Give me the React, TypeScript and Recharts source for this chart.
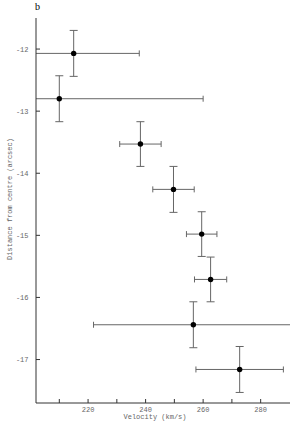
import React from 'react';
import { ScatterChart, Scatter, XAxis, YAxis, ErrorBar } from 'recharts';

// values (velocity in km/s, distance in arcsec)
const velocity = [215.0, 210.0, 238.2, 249.7, 259.5, 262.6, 256.6, 272.7];
const distance = [-12.07, -12.8, -13.53, -14.26, -14.98, -15.71, -16.44, -17.16];
const velocityErr = [22.8, 50, 7.2, 7.2, 5.3, 5.6, 34.7, 15.2];
const distanceErr = [0.37, 0.37, 0.36, 0.37, 0.36, 0.36, 0.37, 0.37];

const xTicks = [210, 220, 230, 240, 250, 260, 270, 280];
const yTicks = [-17, -16, -15, -14, -13, -12];

const xDomain: [number, number] = [201.9, 290.2];
const yDomain: [number, number] = [-17.7, -11.5];

const mono = '"Liberation Mono", monospace';
const frame = '#333';
const textColor = '#666';

const data = velocity.map((v, i) => ({
  v,
  d: distance[i],
  vErr: velocityErr[i],
  dErr: distanceErr[i],
}));

const Dot = (props: any) => <circle cx={props.cx} cy={props.cy} r={2.7} fill="#000" />;

export default function App() {
  return (
    <div style={{ position: 'absolute', left: 0, top: 0, width: 297, height: 424, background: '#fff' }}>
      <ScatterChart width={297} height={424} margin={{ top: 18, right: 7, bottom: 0, left: 0 }}>
        <defs>
          <clipPath id="plotArea" clipPathUnits="userSpaceOnUse">
            <rect x={36} y={18} width={254} height={385} />
          </clipPath>
        </defs>
        <XAxis
          xAxisId="bottom"
          dataKey="v"
          type="number"
          domain={xDomain}
          ticks={xTicks}
          allowDataOverflow
          height={21}
          tickSize={-4}
          tickMargin={8}
          tickFormatter={(t: number) => (t % 20 === 0 ? String(t) : '')}
          tick={{ fill: textColor, fontSize: 7, fontFamily: mono }}
          axisLine={{ stroke: frame }}
          tickLine={{ stroke: frame }}
        />
        <XAxis
          xAxisId="top"
          orientation="top"
          type="number"
          domain={xDomain}
          ticks={xTicks}
          allowDataOverflow
          height={0}
          tickSize={-4}
          tick={false}
          axisLine={{ stroke: frame }}
          tickLine={{ stroke: frame }}
        />
        <YAxis
          yAxisId="left"
          dataKey="d"
          type="number"
          domain={yDomain}
          ticks={yTicks}
          allowDataOverflow
          width={36}
          tickSize={-4}
          tickMargin={11.5}
          tick={{ fill: textColor, fontSize: 7, fontFamily: mono }}
          axisLine={{ stroke: frame }}
          tickLine={{ stroke: frame }}
        />
        <YAxis
          yAxisId="right"
          orientation="right"
          type="number"
          domain={yDomain}
          ticks={yTicks}
          allowDataOverflow
          width={0}
          tickSize={-4}
          tick={false}
          axisLine={{ stroke: frame }}
          tickLine={{ stroke: frame }}
        />
        <Scatter data={data} xAxisId="bottom" yAxisId="left" shape={Dot} isAnimationActive={false}>
          <ErrorBar
            dataKey="vErr"
            direction="x"
            width={3}
            stroke="#666"
            strokeWidth={1}
            clipPath="url(#plotArea)"
            isAnimationActive={false}
          />
          <ErrorBar
            dataKey="dErr"
            direction="y"
            width={4}
            stroke="#666"
            strokeWidth={1}
            clipPath="url(#plotArea)"
            isAnimationActive={false}
          />
        </Scatter>
        <text x={35} y={10} fontFamily='"Liberation Serif", serif' fontSize={10} fill="#000">
          b
        </text>
        <text x={155} y={419} textAnchor="middle" fontFamily={mono} fontSize={7} fill={textColor}>
          Velocity (km/s)
        </text>
        <text
          x={11.5}
          y={199}
          textAnchor="middle"
          transform="rotate(-90 11.5 199)"
          fontFamily={mono}
          fontSize={7}
          fill={textColor}
        >
          Distance from centre (arcsec)
        </text>
      </ScatterChart>
    </div>
  );
}
